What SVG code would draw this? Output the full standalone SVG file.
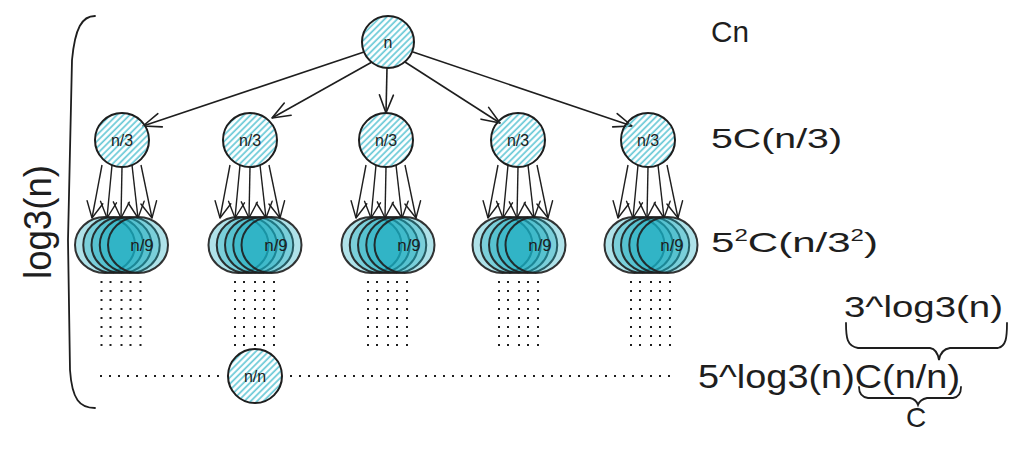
<svg xmlns="http://www.w3.org/2000/svg" width="1019" height="454" viewBox="0 0 1019 454">
<defs>
<pattern id="hatch" patternUnits="userSpaceOnUse" width="4.5" height="4.5" patternTransform="rotate(45)">
<line x1="2" y1="0" x2="2" y2="4.5" stroke="#66c8d6" stroke-width="1.7"/>
</pattern>
<marker id="arr" markerUnits="userSpaceOnUse" viewBox="-20 -10 22 20" markerWidth="22" markerHeight="20" refX="0" refY="0" orient="auto">
<path d="M-18,-7 L0,0 L-18,7" fill="none" stroke="#1e1e1e" stroke-width="1.6" stroke-linecap="round" stroke-linejoin="round"/>
</marker>
<marker id="arr2" markerUnits="userSpaceOnUse" viewBox="-20 -10 22 20" markerWidth="22" markerHeight="20" refX="0" refY="0" orient="auto">
<path d="M-16,-8 L0,0 L-16,8" fill="none" stroke="#1e1e1e" stroke-width="1.4" stroke-linecap="round" stroke-linejoin="round"/>
</marker>
<style>
.node{fill:url(#hatch);stroke:#1e1e1e;stroke-width:2}
.stkE{fill:#15aabf;fill-opacity:0.34;stroke:#1e1e1e;stroke-width:2;stroke-opacity:0.9}
.lbl{font-family:"Liberation Sans",Arial,sans-serif;fill:#1e1e1e;text-anchor:middle}
.txt{font-family:"Liberation Sans",Arial,sans-serif;fill:#1e1e1e}
.edge{stroke:#1e1e1e;stroke-width:1.6;fill:none;marker-end:url(#arr)}
.fanL{stroke:#1e1e1e;stroke-width:1.4;fill:none;marker-end:url(#arr2)}
.dot{stroke:#1e1e1e;stroke-width:2;stroke-dasharray:2 7;fill:none}
.brace{stroke:#1e1e1e;stroke-width:1.8;fill:none;stroke-linecap:round}
</style>
<g id="stack">
<ellipse class="stkE" cx="-16.5" cy="0" rx="30" ry="28"/>
<ellipse class="stkE" cx="-8.25" cy="0" rx="30" ry="28"/>
<ellipse class="stkE" cx="0" cy="0" rx="30" ry="28"/>
<ellipse class="stkE" cx="8.25" cy="0" rx="30" ry="28"/>
<ellipse class="stkE" cx="16.5" cy="0" rx="30" ry="28"/>
</g>
<g id="fan">
<line class="fanL" x1="-20" y1="0" x2="-30" y2="53"/>
<line class="fanL" x1="-10" y1="0" x2="-15" y2="53"/>
<line class="fanL" x1="0" y1="2" x2="-1" y2="53"/>
<line class="fanL" x1="10" y1="0" x2="16" y2="53"/>
<line class="fanL" x1="19" y1="0" x2="30" y2="53"/>
</g>
<g id="dots">
<line class="dot" x1="-20" y1="0" x2="-20" y2="66"/>
<line class="dot" x1="-11" y1="0" x2="-11" y2="66"/>
<line class="dot" x1="0" y1="0" x2="0" y2="66"/>
<line class="dot" x1="9" y1="0" x2="9" y2="66"/>
<line class="dot" x1="19" y1="0" x2="19" y2="66"/>
</g>
</defs>

<g id="connectors">
<line class="edge" x1="364" y1="52" x2="143" y2="126"/>
<line class="edge" x1="372" y1="62" x2="272" y2="118"/>
<line class="edge" x1="387" y1="68" x2="386" y2="113"/>
<line class="edge" x1="405" y1="62" x2="500" y2="123"/>
<line class="edge" x1="413" y1="52" x2="632" y2="126"/>
<use href="#fan" x="122" y="165"/>
<use href="#fan" x="250" y="165"/>
<use href="#fan" x="386" y="165"/>
<use href="#fan" x="518" y="165"/>
<use href="#fan" x="648" y="165"/>
</g>

<g id="node-n">
<circle class="node" cx="388" cy="42" r="26"/>
<text class="lbl" x="388" y="48" font-size="16">n</text>
</g>
<g id="node-n3-1"><circle class="node" cx="122" cy="140" r="27"/><text class="lbl" x="122" y="146" font-size="16">n/3</text></g>
<g id="node-n3-2"><circle class="node" cx="250" cy="140" r="27"/><text class="lbl" x="250" y="146" font-size="16">n/3</text></g>
<g id="node-n3-3"><circle class="node" cx="386" cy="140" r="27"/><text class="lbl" x="386" y="146" font-size="16">n/3</text></g>
<g id="node-n3-4"><circle class="node" cx="518" cy="140" r="27"/><text class="lbl" x="518" y="146" font-size="16">n/3</text></g>
<g id="node-n3-5"><circle class="node" cx="648" cy="140" r="27"/><text class="lbl" x="648" y="146" font-size="16">n/3</text></g>

<g id="group-n9-1"><use href="#stack" x="121.5" y="245"/><text class="lbl" x="142" y="251" font-size="17">n/9</text></g>
<g id="group-n9-2"><use href="#stack" x="255" y="245"/><text class="lbl" x="276" y="251" font-size="17">n/9</text></g>
<g id="group-n9-3"><use href="#stack" x="388" y="245"/><text class="lbl" x="409" y="251" font-size="17">n/9</text></g>
<g id="group-n9-4"><use href="#stack" x="519" y="245"/><text class="lbl" x="540" y="251" font-size="17">n/9</text></g>
<g id="group-n9-5"><use href="#stack" x="651" y="245"/><text class="lbl" x="672" y="251" font-size="17">n/9</text></g>

<g id="ellipsis">
<use href="#dots" x="121.5" y="281"/>
<use href="#dots" x="255" y="281"/>
<use href="#dots" x="388" y="281"/>
<use href="#dots" x="519" y="281"/>
<use href="#dots" x="651" y="281"/>
<line class="dot" x1="100" y1="376" x2="226" y2="376"/>
<line class="dot" x1="290" y1="376" x2="672" y2="376"/>
</g>

<g id="node-nn">
<circle class="node" cx="255" cy="376" r="27"/>
<text class="lbl" x="255" y="382" font-size="16">n/n</text>
</g>

<g id="left-brace">
<path class="brace" d="M95,16 C82,16 75,28 72,60 L68,240 L70,370 C72,400 80,408 95,408"/>
<text class="lbl" font-size="38" textLength="114" lengthAdjust="spacingAndGlyphs" transform="translate(51,222) rotate(-90)">log3(n)</text>
</g>

<g id="labels">
<text class="txt" x="711" y="42" font-size="30" textLength="38" lengthAdjust="spacingAndGlyphs">Cn</text>
<text class="txt" x="711" y="148" font-size="28" textLength="131" lengthAdjust="spacingAndGlyphs">5C(n/3)</text>
<text class="txt" x="711" y="252" font-size="28" textLength="167" lengthAdjust="spacingAndGlyphs">5<tspan font-size="16" dy="-11">2</tspan><tspan dy="11">C(n/3</tspan><tspan font-size="16" dy="-11">2</tspan><tspan dy="11">)</tspan></text>
<text class="txt" x="698" y="388" font-size="33" textLength="262" lengthAdjust="spacingAndGlyphs">5^log3(n)C(n/n)</text>
<text class="txt" x="844" y="317" font-size="30" textLength="159" lengthAdjust="spacingAndGlyphs">3^log3(n)</text>
<path class="brace" d="M846,323 C846,338 847,346 858,348 L930,348 C936,349 938,354 939,360 C940,354 943,349 950,348 L998,348 C1006,346 1007,338 1007,323"/>
<path class="brace" d="M859,387 C859,393 861,397 868,398 L910,398 C915,399 917,402 918,405 C919,402 922,399 927,398 L953,398 C959,397 961,393 961,387"/>
<text class="txt" x="906" y="427" font-size="28">C</text>
</g>
</svg>
